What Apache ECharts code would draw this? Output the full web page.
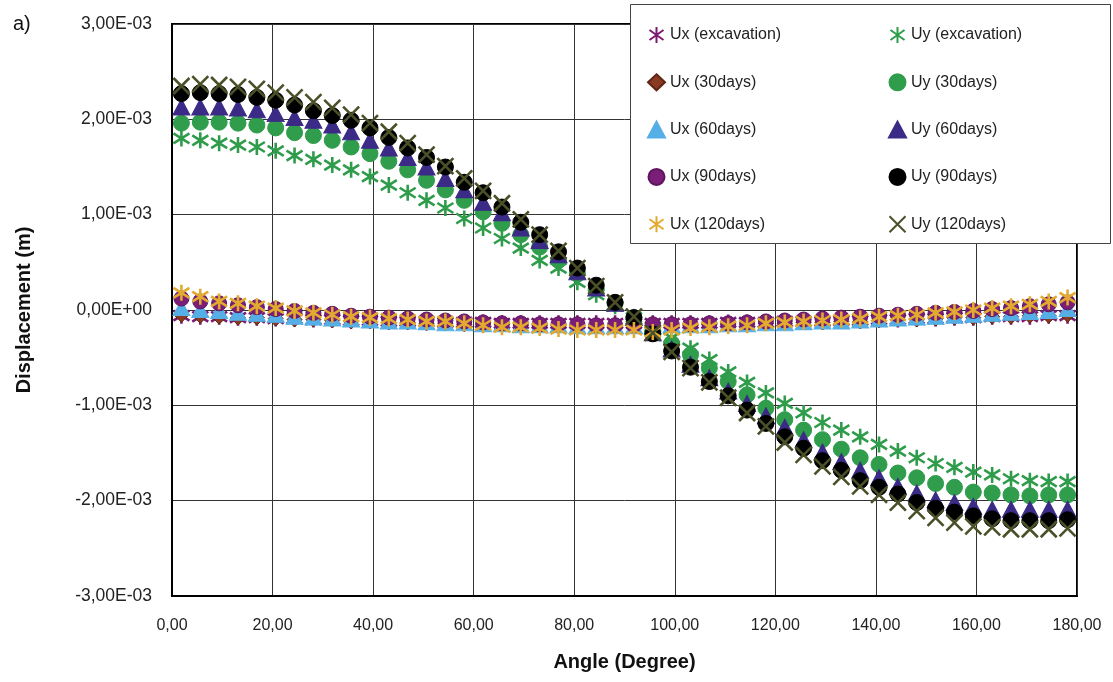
<!DOCTYPE html>
<html>
<head>
<meta charset="utf-8">
<script src="https://cdn.jsdelivr.net/npm/echarts@6/dist/echarts.min.js"></script>
<style>
  html, body { margin: 0; padding: 0; background: #fff; }
  #chart { width: 1113px; height: 682px; }
</style>
</head>
<body>
<div id="chart"></div>
<script>
// angle of each point (degrees)
const angles = [1.875, 5.625, 9.375, 13.125, 16.875, 20.625, 24.375, 28.125, 31.875, 35.625,
  39.375, 43.125, 46.875, 50.625, 54.375, 58.125, 61.875, 65.625, 69.375, 73.125,
  76.875, 80.625, 84.375, 88.125, 91.875, 95.625, 99.375, 103.125, 106.875, 110.625,
  114.375, 118.125, 121.875, 125.625, 129.375, 133.125, 136.875, 140.625, 144.375, 148.125,
  151.875, 155.625, 159.375, 163.125, 166.875, 170.625, 174.375, 178.125];

// displacements, in mm (converted to m for the chart)
const uxExc = [-0.06, -0.07, -0.07, -0.08, -0.08, -0.09, -0.09, -0.10, -0.10, -0.11,
  -0.11, -0.12, -0.12, -0.12, -0.13, -0.13, -0.13, -0.14, -0.14, -0.14,
  -0.14, -0.14, -0.14, -0.14, -0.14, -0.14, -0.14, -0.14, -0.14, -0.13,
  -0.13, -0.13, -0.12, -0.12, -0.12, -0.11, -0.11, -0.10, -0.10, -0.09,
  -0.09, -0.08, -0.08, -0.07, -0.07, -0.07, -0.06, -0.06];
const uyExc = [1.80, 1.78, 1.75, 1.73, 1.71, 1.67, 1.62, 1.58, 1.52, 1.47,
  1.40, 1.31, 1.23, 1.15, 1.07, 0.96, 0.86, 0.75, 0.65, 0.52,
  0.44, 0.29, 0.16, 0.04, -0.08, -0.18, -0.29, -0.40, -0.52, -0.65,
  -0.76, -0.87, -0.98, -1.08, -1.18, -1.26, -1.33, -1.41, -1.48, -1.55,
  -1.61, -1.65, -1.70, -1.73, -1.77, -1.79, -1.80, -1.80];
const ux30 = [-0.05, -0.06, -0.07, -0.08, -0.08, -0.09, -0.10, -0.10, -0.11, -0.12,
  -0.12, -0.13, -0.13, -0.14, -0.14, -0.15, -0.15, -0.15, -0.16, -0.16,
  -0.16, -0.16, -0.16, -0.16, -0.16, -0.16, -0.16, -0.16, -0.15, -0.15,
  -0.15, -0.14, -0.14, -0.13, -0.13, -0.12, -0.12, -0.11, -0.10, -0.10,
  -0.09, -0.08, -0.08, -0.07, -0.07, -0.06, -0.06, -0.05];
const uy30 = [1.96, 1.97, 1.97, 1.96, 1.94, 1.91, 1.86, 1.83, 1.78, 1.71,
  1.64, 1.56, 1.47, 1.36, 1.26, 1.15, 1.03, 0.91, 0.79, 0.66,
  0.52, 0.39, 0.22, 0.07, -0.08, -0.22, -0.35, -0.47, -0.61, -0.75,
  -0.89, -1.03, -1.15, -1.26, -1.36, -1.46, -1.55, -1.62, -1.71, -1.76,
  -1.82, -1.86, -1.91, -1.92, -1.94, -1.95, -1.94, -1.94];
const ux60 = [0.02, 0.00, -0.01, -0.03, -0.04, -0.05, -0.07, -0.08, -0.09, -0.10,
  -0.11, -0.12, -0.12, -0.13, -0.14, -0.14, -0.15, -0.15, -0.16, -0.16,
  -0.16, -0.17, -0.17, -0.17, -0.17, -0.17, -0.16, -0.16, -0.16, -0.15,
  -0.15, -0.14, -0.14, -0.13, -0.12, -0.12, -0.11, -0.10, -0.09, -0.08,
  -0.07, -0.06, -0.05, -0.04, -0.03, -0.02, -0.01, 0.01];
const uy60 = [2.13, 2.13, 2.13, 2.12, 2.10, 2.06, 2.02, 1.99, 1.94, 1.87,
  1.78, 1.70, 1.60, 1.50, 1.38, 1.26, 1.13, 1.02, 0.86, 0.73,
  0.58, 0.40, 0.23, 0.07, -0.08, -0.24, -0.41, -0.57, -0.71, -0.85,
  -0.98, -1.11, -1.23, -1.36, -1.49, -1.59, -1.68, -1.76, -1.85, -1.92,
  -1.99, -2.02, -2.06, -2.09, -2.09, -2.09, -2.09, -2.09];
const ux90 = [0.12, 0.09, 0.07, 0.05, 0.03, 0.01, -0.01, -0.03, -0.04, -0.06,
  -0.07, -0.08, -0.09, -0.10, -0.11, -0.12, -0.13, -0.14, -0.14, -0.15,
  -0.15, -0.15, -0.16, -0.16, -0.16, -0.15, -0.15, -0.15, -0.14, -0.14,
  -0.13, -0.12, -0.11, -0.10, -0.09, -0.08, -0.07, -0.06, -0.05, -0.04,
  -0.03, -0.02, -0.01, 0.01, 0.02, 0.04, 0.06, 0.08];
const uy90 = [2.27, 2.28, 2.27, 2.26, 2.23, 2.20, 2.15, 2.09, 2.04, 1.99,
  1.91, 1.81, 1.70, 1.60, 1.50, 1.34, 1.23, 1.08, 0.92, 0.79,
  0.61, 0.44, 0.26, 0.08, -0.08, -0.25, -0.43, -0.60, -0.75, -0.90,
  -1.05, -1.19, -1.33, -1.45, -1.58, -1.68, -1.79, -1.86, -1.93, -2.02,
  -2.08, -2.12, -2.16, -2.19, -2.21, -2.21, -2.21, -2.20];
const ux120 = [0.18, 0.14, 0.09, 0.07, 0.04, 0.02, -0.01, -0.03, -0.05, -0.07,
  -0.08, -0.09, -0.10, -0.12, -0.12, -0.14, -0.16, -0.18, -0.18, -0.19,
  -0.20, -0.21, -0.21, -0.21, -0.21, -0.23, -0.21, -0.19, -0.18, -0.17,
  -0.16, -0.14, -0.13, -0.12, -0.11, -0.10, -0.09, -0.07, -0.06, -0.05,
  -0.03, -0.02, 0.00, 0.02, 0.04, 0.06, 0.09, 0.13];
const uy120 = [2.35, 2.37, 2.36, 2.34, 2.32, 2.28, 2.23, 2.18, 2.12, 2.05,
  1.96, 1.87, 1.75, 1.63, 1.51, 1.38, 1.25, 1.12, 0.95, 0.79,
  0.62, 0.44, 0.25, 0.08, -0.07, -0.24, -0.44, -0.61, -0.76, -0.92,
  -1.08, -1.22, -1.39, -1.52, -1.64, -1.75, -1.85, -1.94, -2.02, -2.11,
  -2.18, -2.23, -2.27, -2.28, -2.30, -2.30, -2.30, -2.29];

const leftNames = ['Ux (excavation)', 'Ux (30days)', 'Ux (60days)', 'Ux (90days)', 'Ux (120days)'];
const rightNames = ['Uy (excavation)', 'Uy (30days)', 'Uy (60days)', 'Uy (90days)', 'Uy (120days)'];

const ASTER = 'path://M8,0L8,16M1,3L15,13M1,13L15,3';
const CROSS = 'path://M0,0L16,16M0,16L16,0';

function pts(vals) {
  return angles.map((a, i) => [a, vals[i] / 1000]);
}

function sci(v) {
  if (Math.abs(v) < 1e-12) return '0,00E+00';
  const parts = v.toExponential(2).split('e');
  const e = parseInt(parts[1], 10);
  return parts[0].replace('.', ',') + 'E' + (e < 0 ? '-' : '+') + String(Math.abs(e)).padStart(2, '0');
}

function strokeSeries(name, vals, symbol, color, size) {
  return {
    name: name, type: 'scatter', data: pts(vals),
    symbol: symbol, symbolSize: size,
    itemStyle: { color: 'rgba(0,0,0,0)', borderColor: color, borderWidth: 2.6, opacity: 1 }
  };
}
function fillSeries(name, vals, symbol, color, border, size) {
  return {
    name: name, type: 'scatter', data: pts(vals),
    symbol: symbol, symbolSize: size,
    itemStyle: { color: color, borderColor: border, borderWidth: 1, opacity: 1 }
  };
}

const font = '"Liberation Sans", Arial, Helvetica, sans-serif';

const option = {
  backgroundColor: '#fff',
  animation: false,
  textStyle: { fontFamily: font },
  title: {
    text: 'a)', left: 8, top: 9,
    textStyle: { fontFamily: font, fontSize: 20, fontWeight: 'normal', color: '#111' }
  },
  grid: {
    left: 172, right: 36, top: 24, bottom: 86,
    show: true, borderColor: '#000', borderWidth: 2, backgroundColor: 'rgba(0,0,0,0)'
  },
  xAxis: {
    type: 'value', min: 0, max: 180, interval: 20,
    name: 'Angle (Degree)', nameLocation: 'middle', nameGap: 56,
    nameTextStyle: { fontFamily: font, fontSize: 20, fontWeight: 'bold', color: '#111' },
    axisLine: { show: true, onZero: false, lineStyle: { color: '#000', width: 2 } },
    axisTick: { show: false },
    axisLabel: {
      margin: 22, fontSize: 16, color: '#222', fontFamily: font,
      formatter: v => v.toFixed(2).replace('.', ',')
    },
    splitLine: { show: true, lineStyle: { color: '#333', width: 1 } }
  },
  yAxis: {
    type: 'value', min: -0.003, max: 0.003, interval: 0.001,
    name: 'Displacement (m)', nameLocation: 'middle', nameGap: 138,
    nameTextStyle: { fontFamily: font, fontSize: 20, fontWeight: 'bold', color: '#111' },
    axisLine: { show: true, onZero: false, lineStyle: { color: '#000', width: 2 } },
    axisTick: { show: false },
    axisLabel: { margin: 20, fontSize: 17.5, color: '#222', fontFamily: font, formatter: sci },
    splitLine: { show: true, lineStyle: { color: '#333', width: 1 } }
  },
  legend: [
    {
      data: leftNames, orient: 'vertical', left: 642, top: 21,
      itemWidth: 17, itemHeight: 16, itemGap: 29.3,
      textStyle: { fontSize: 16, color: '#222', fontFamily: font }
    },
    {
      data: rightNames, orient: 'vertical', left: 883, top: 21,
      itemWidth: 17, itemHeight: 16, itemGap: 29.3,
      textStyle: { fontSize: 16, color: '#222', fontFamily: font }
    }
  ],
  graphic: [{
    type: 'rect', z: 3, silent: true,
    shape: { x: 630.5, y: 4.5, width: 480, height: 239 },
    style: { fill: '#fff', stroke: '#444', lineWidth: 1 }
  }],
  series: [
    strokeSeries('Ux (excavation)', uxExc, ASTER, '#7b1a72', 16),
    strokeSeries('Uy (excavation)', uyExc, ASTER, '#2e9c4a', 16),
    fillSeries('Ux (30days)', ux30, 'diamond', '#8b3a22', '#5e2414', 15),
    fillSeries('Uy (30days)', uy30, 'circle', '#2f9d4b', '#2f9d4b', 16),
    fillSeries('Ux (60days)', ux60, 'triangle', '#56aee6', '#56aee6', [17, 15]),
    fillSeries('Uy (60days)', uy60, 'triangle', '#3b2a86', '#3b2a86', [17, 16]),
    fillSeries('Ux (90days)', ux90, 'circle', '#7a1e78', '#5e1460', 15),
    fillSeries('Uy (90days)', uy90, 'circle', '#000', '#000', 16),
    strokeSeries('Ux (120days)', ux120, ASTER, '#e2aa2f', 16),
    strokeSeries('Uy (120days)', uy120, CROSS, '#4b5028', 16)
  ]
};

echarts.init(document.getElementById('chart')).setOption(option);
</script>
</body>
</html>
